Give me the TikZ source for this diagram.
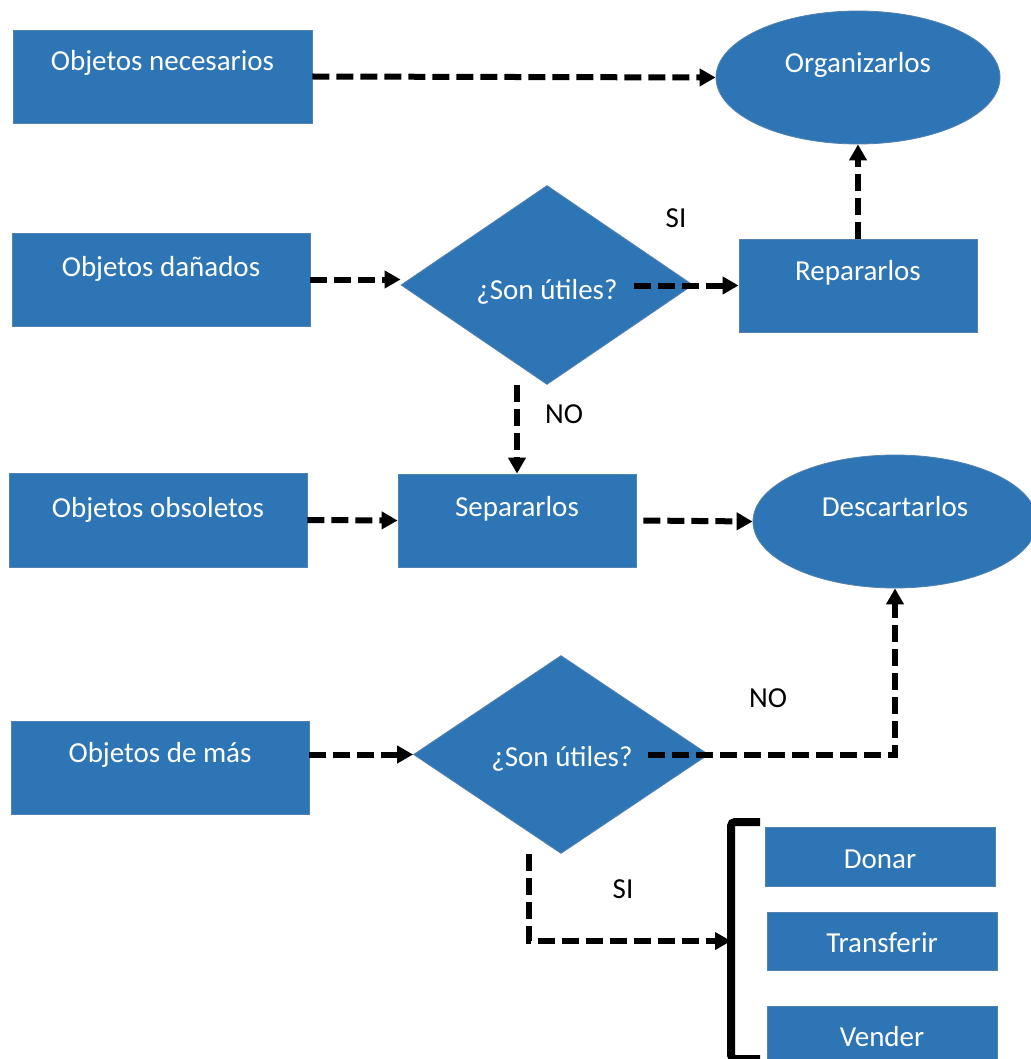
\documentclass[tikz,border=0pt]{standalone}
\usepackage{fontspec}
\setmainfont{Carlito}
\usepackage{tikz}
\usetikzlibrary{shapes.geometric, arrows.meta, calc, positioning}
\definecolor{boxblue}{RGB}{46,117,182}
\definecolor{boxedge}{RGB}{84,130,176}
\tikzstyle{block} = [rectangle, fill=boxblue, draw=boxedge, line width=0.8pt, inner sep=0pt]
\tikzstyle{oval} = [ellipse, fill=boxblue, draw=boxedge, line width=0.8pt, inner sep=0pt, minimum width=284pt, minimum height=133pt]
\tikzstyle{decision} = [diamond, fill=boxblue, draw=boxedge, line width=0.8pt, inner sep=0pt]
\tikzstyle{intext} = [text=white, inner sep=0pt, font=\fontsize{29}{34}\selectfont, text height=22pt, text depth=2pt]
\tikzstyle{tag} = [text=black, inner sep=0pt, font=\fontsize{29}{34}\selectfont, text height=22pt, text depth=2pt]
\tikzstyle{arrow} = [line width=6pt, dash pattern=on 17pt off 7pt, -{Triangle[length=16pt,width=17pt]}]
\tikzstyle{bracket} = [line width=8pt, rounded corners=4pt]

\begin{document}
\begin{tikzpicture}[x=1pt, y=-1pt]
		\path[use as bounding box, fill=white] (0,0) rectangle (1030,1059);
		
		% left column
		\node (Necesarios) [block, minimum width=299pt, minimum height=93pt] at (162.5,76.5) {};
		\node (Danados) [block, minimum width=298pt, minimum height=93pt] at (161,279.5) {};
		\node (Obsoletos) [block, minimum width=298pt, minimum height=94pt] at (158,520) {};
		\node (DeMas) [block, minimum width=298pt, minimum height=93pt] at (160,767.5) {};
		
		% middle and right
		\node (Organizar) [oval] at (858,77.5) {};
		\node (Utiles1) [decision, minimum width=292pt, minimum height=199pt] at (547,285) {};
		\node (Reparar) [block, minimum width=238pt, minimum height=93pt] at (858,285.5) {};
		\node (Separar) [block, minimum width=238pt, minimum height=93pt] at (517,520.5) {};
		\node (Descartar) [oval] at (895,521.5) {};
		\node (Utiles2) [decision, minimum width=295pt, minimum height=198pt] at (561,754.5) {};
		\node (Donar) [block, minimum width=230pt, minimum height=59pt] at (880,856.5) {};
		\node (Transferir) [block, minimum width=230pt, minimum height=58pt] at (882,941) {};
		\node (Vender) [block, minimum width=230pt, minimum height=59pt] at (882,1035.5) {};
		
		% texts
		\node (NecesariosT) [intext] at ($(Necesarios.north)+(0,31)$) {Objetos necesarios};
		\node (DanadosT) [intext] at ($(Danados.north)+(0,34)$) {Objetos dañados};
		\node (ObsoletosT) [intext] at ($(Obsoletos.north)+(0,35)$) {Objetos obsoletos};
		\node (DeMasT) [intext] at ($(DeMas.north)+(0,32)$) {Objetos de más};
		\node (OrganizarT) [intext] at ($(Organizar.north)+(0,52)$) {Organizarlos};
		\node (RepararT) [intext] at ($(Reparar.north)+(0,32)$) {Repararlos};
		\node (SepararT) [intext] at ($(Separar.north)+(0,33)$) {Separarlos};
		\node (DescartarT) [intext] at ($(Descartar.north)+(0,52)$) {Descartarlos};
		\node (Utiles1T) [intext] at ($(Utiles1.center)+(0,4)$) {¿Son útiles?};
		\node (Utiles2T) [intext] at ($(Utiles2.center)+(1,2)$) {¿Son útiles?};
		\node (DonarT) [intext] at ($(Donar.north)+(0,32)$) {Donar};
		\node (TransferirT) [intext] at ($(Transferir.north)+(0,31)$) {Transferir};
		\node (VenderT) [intext] at ($(Vender.north)+(0,31)$) {Vender};
		
		\node (Si1) [tag] at (676,218) {SI};
		\node (No1) [tag] at (564,413) {NO};
		\node (No2) [tag] at (768,697) {NO};
		\node (Si2) [tag] at (623,888) {SI};
		
		% bracket
		\coordinate (BracketTop) at (731,822);
		\coordinate (BracketBottom) at (731,1059);
		\coordinate (BracketMid) at (731,941);
		\draw [bracket] ($(BracketTop)+(29,0)$) -- (BracketTop) -- (BracketBottom) -- ($(BracketBottom)+(29,0)$);
		
		% connectors
		\draw [arrow] (Necesarios.east) -- (Organizar.west);
		\draw [arrow] (Danados.east) -- (Danados.east -| Utiles1.west);
		\draw [arrow] ([xshift=16pt]Utiles1T.east |- Reparar.west) -- (Reparar.west);
		\draw [arrow] (Reparar.north) -- (Organizar.south);
		\draw [arrow] (Separar.north |- Utiles1.south) -- (Separar.north);
		\draw [arrow] (Obsoletos.east) -- (Separar.west);
		\draw [arrow] ([xshift=7pt]Separar.east) -- (Descartar.west);
		\draw [arrow] (DeMas.east |- Utiles2.west) -- (Utiles2.west);
		\draw [arrow] ([xshift=15pt]Utiles2T.east |- Utiles2.east) -| (Descartar.south);
		\draw [arrow] ([xshift=-32pt]Utiles2.south) |- (BracketMid);
\end{tikzpicture}
\end{document}
